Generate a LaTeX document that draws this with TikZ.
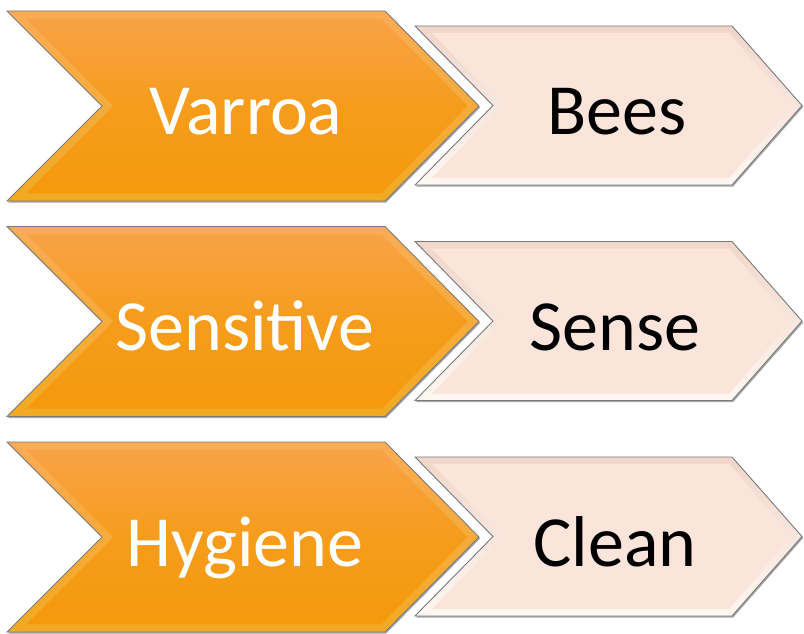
\documentclass[tikz,border=0pt]{standalone}
\usepackage{fontspec}
\setmainfont{Carlito}
\definecolor{orRimTop}{HTML}{F9AC55}
\definecolor{orRimBot}{HTML}{F2AA22}
\definecolor{orTop}{HTML}{F8A246}
\definecolor{orMid}{HTML}{F69C1C}
\definecolor{orBot}{HTML}{F59A0C}
\definecolor{pkRimTop}{HTML}{F1D6CA}
\definecolor{pkRimBot}{HTML}{FEF7F1}
\definecolor{pkFill}{HTML}{FBE4DA}
\definecolor{edge}{HTML}{7A7A7A}
% #1 left x, #2 notch x, #3 corner x, #4 tip x, #5 top y, #6 bottom y, #7 inset
\newcommand{\chevshape}[7]{({#1+2.414*#7},{#5+#7}) -- ({#3-0.414*#7},{#5+#7}) -- ({#4-1.414*#7},{(#5+#6)/2}) -- ({#3-0.414*#7},{#6-#7}) -- ({#1+2.414*#7},{#6-#7}) -- ({#2+1.414*#7},{(#5+#6)/2}) -- cycle}
\tikzset{
  shadowfill/.style={fill=black!35},
  orrim/.style={top color=orRimTop, bottom color=orRimBot, draw=edge, line width=0.9pt},
  orinner/.style={top color=orTop, bottom color=orBot, middle color=orMid},
  pkrim/.style={top color=pkRimTop, bottom color=pkRimBot, draw=edge, line width=0.9pt},
  pkinner/.style={fill=pkFill},
  whitelbl/.style={text=white, font=\fontsize{72}{80}\selectfont, anchor=base, inner sep=0pt},
  blacklbl/.style={text=black, font=\fontsize{72}{80}\selectfont, anchor=base, inner sep=0pt}
}
\newcommand{\orchev}[1]{%
  \begin{scope}[yshift=-#1pt]
    \fill[shadowfill, xshift=1.2pt, yshift=-1.5pt] \chevshape{7}{102}{385}{479}{11}{201}{0};
    \path[orrim] \chevshape{7}{102}{385}{479}{11}{201}{0};
    \path[orinner] \chevshape{7}{102}{385}{479}{11}{201}{8};
  \end{scope}}
\newcommand{\pkchev}[1]{%
  \begin{scope}[yshift=-#1pt]
    \fill[shadowfill, xshift=1.2pt, yshift=-1.5pt] \chevshape{415}{493}{732}{802}{26}{185}{0};
    \path[pkrim] \chevshape{415}{493}{732}{802}{26}{185}{0};
    \path[pkinner] \chevshape{415}{493}{732}{802}{26}{185}{7};
  \end{scope}}
\begin{document}
\begin{tikzpicture}[x=1pt,y=-1pt]
\useasboundingbox (0,0) rectangle (804,634);
\orchev{0}
\pkchev{0}
\orchev{215.5}
\pkchev{215.5}
\orchev{431}
\pkchev{431}
\node[whitelbl] (varroa) at (246,135) {Varroa};
\node[blacklbl] (bees) at (617,135) {Bees};
\node[whitelbl] (sensitive) at (245,350.5) {Sensitive};
\node[blacklbl] (sense) at (615,350.5) {Sense};
\node[whitelbl] (hygiene) at (245,566) {Hygiene};
\node[blacklbl] (clean) at (615,566) {Clean};
\end{tikzpicture}
\end{document}
